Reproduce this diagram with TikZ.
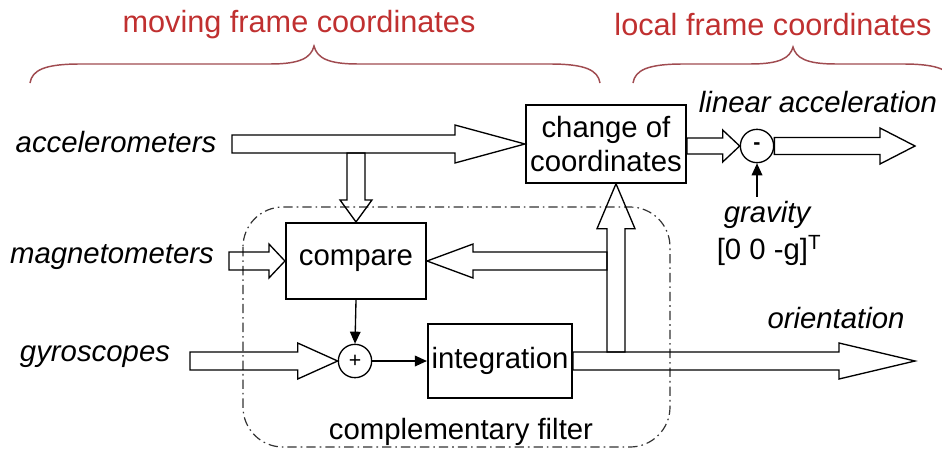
\documentclass[tikz,border=0pt]{standalone}
\usepackage{fontspec}
\setmainfont{Liberation Sans}
\usetikzlibrary{arrows.meta,calc,positioning}

\definecolor{titlered}{RGB}{192,48,48}
\definecolor{bracered}{RGB}{160,75,80}

% hollow block arrow: from, to, half shaft, half head, head length (in px)
\newcommand{\fatarrow}[5]{%
  \coordinate (fa-h) at ($(#2)!#5*0.75pt!(#1)$);
  \draw[fat] ($(#1)!#3*0.75pt!90:(#2)$) -- ($(fa-h)!#3*0.75pt!-90:(#1)$)
    -- ($(fa-h)!#4*0.75pt!-90:(#1)$) -- (#2)
    -- ($(fa-h)!#4*0.75pt!90:(#1)$) -- ($(fa-h)!#3*0.75pt!90:(#1)$)
    -- ($(#1)!#3*0.75pt!-90:(#2)$) -- cycle;
}

\begin{document}
\begin{tikzpicture}[x=0.75pt,y=-0.75pt,
    block/.style={draw, line width=1.6pt, align=center, inner sep=1pt, font=\fontsize{22}{25}\selectfont},
    junction/.style={draw, circle, line width=1pt, minimum size=25pt, inner sep=0pt, font=\fontsize{16}{16}\selectfont},
    lbl/.style={font=\fontsize{22}{25}\selectfont\itshape},
    txt/.style={font=\fontsize{22}{25}\selectfont},
    title/.style={font=\fontsize{23}{26}\selectfont, text=titlered},
    fat/.style={line width=1pt, line join=miter},
    sig/.style={-{Triangle[length=9pt,width=8pt]}, line width=1pt}
]
\useasboundingbox (0,0) rectangle (942,457);

% headings and braces
\node[title] (movhead) at (299,25) {moving frame coordinates};
\node[title] (lochead) at (773,25) {local frame coordinates};
\begin{scope}
\clip (0,0) rectangle (942,457);
\draw[bracered, line width=1.1pt] (30,83) .. controls (32,70) and (45,64) .. (80,64) -- (270,64)
  .. controls (300,64) and (311,58) .. (314,46) .. controls (317,58) and (328,64) .. (358,64)
  -- (550,64) .. controls (585,64) and (598,70) .. (600,83);
\draw[bracered, line width=1.1pt] (633,83) .. controls (635,70) and (648,64) .. (683,64) -- (750,64)
  .. controls (780,64) and (790,58) .. (793,47) .. controls (796,58) and (806,64) .. (836,64)
  -- (903,64) .. controls (938,64) and (951,70) .. (953,83);
\end{scope}

% filter frame
\draw[black!80, line width=0.9pt, dash pattern=on 7pt off 3pt on 1.2pt off 3pt, rounded corners=30pt] (243,207) rectangle (670,447);
\node[txt] (filtlbl) at (461,432) {complementary filter};

% blocks
\node[block, minimum width=120pt, minimum height=58pt] (coc) at (606,144) {change of\\coordinates};
\node[block, minimum width=105pt, minimum height=57pt] (cmp) at (356,261) {compare};
\node[block, minimum width=108pt, minimum height=56pt] (intg) at (500,361) {integration};
\node[junction] (plus) at (355,361) {+};
\node[junction] (minus) at (757,146) {\textbf{-}};

% labels
\node[lbl] (acc) at (116,142) {accelerometers};
\node[lbl] (mag) at (112,257) {magnetometers};
\node[lbl] (gyro) at (95,357) {gyroscopes};
\node[lbl] (linacc) at (818,102) {linear acceleration};
\node[lbl] (orient) at (836,318) {orientation};
\node[lbl] (grav) at (767,215) {gravity};
\node[txt] (gvec) at (769,250) {[0 0 -g]\textsuperscript{T}};

% arrow ends
\coordinate (accout) at (232,144);
\coordinate (magout) at (229,261);
\coordinate (gyroout) at (190,361);
\coordinate (cocin) at ($(coc.south)+(10,0)$);
\coordinate (cocout) at (coc.east |- minus.west);
\coordinate (split) at ($(cocin |- intg.east)+(0,-9)$);
\coordinate (tap) at ($(cmp.north |- coc.west)+(0,9)$);
\coordinate (fbout) at ($(cmp.east -| split)+(-9,0)$);
\coordinate (oriend) at (915,361);
\coordinate (linend) at (915,146);

\fatarrow{accout}{coc.west}{9}{19}{70}
\fatarrow{tap}{cmp.north}{9}{16}{22}
\fatarrow{magout}{cmp.west}{9}{17}{16}
\fatarrow{fbout}{cmp.east}{9}{17}{46}
\fatarrow{split}{cocin}{9}{19}{45}
\fatarrow{gyroout}{plus.west}{9}{18}{40}
\fatarrow{intg.east}{oriend}{9}{18}{76}
\fatarrow{cocout}{minus.west}{8}{16}{17}
\fatarrow{minus.east}{linend}{8.5}{18}{35}

\draw[sig] (cmp.south) -- (plus.north);
\draw[sig] (plus.east) -- (intg.west);
\draw[sig] (grav.north -| minus.south) -- (minus.south);
\end{tikzpicture}
\end{document}
